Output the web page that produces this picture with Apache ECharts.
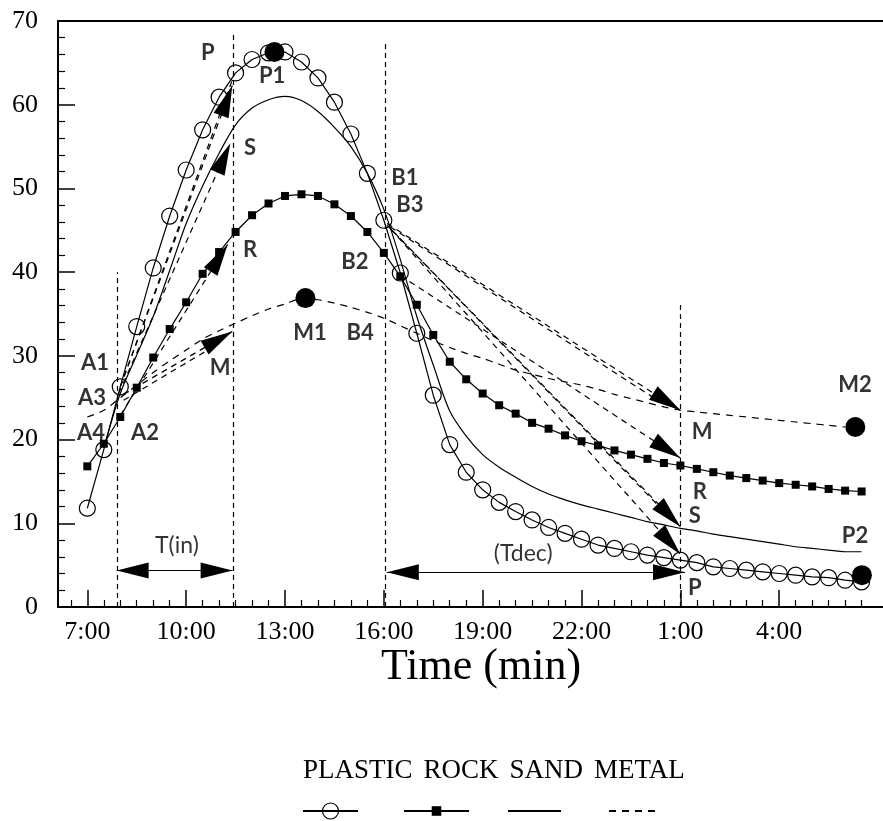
<!DOCTYPE html>
<html><head><meta charset="utf-8">
<script src="https://cdn.jsdelivr.net/npm/echarts@6/dist/echarts.min.js"></script>
<style>html,body{margin:0;padding:0;background:#fff}#c{width:883px;height:821px}</style>
</head><body><div id="c"></div>
<script>
// ---- data (hours; 25 = 1:00 next day) ----
const times = [7,7.5,8,8.5,9,9.5,10,10.5,11,11.5,12,12.5,13,13.5,14,14.5,15,15.5,16,16.5,17,17.5,18,18.5,19,19.5,20,20.5,21,21.5,22,22.5,23,23.5,24,24.5,25,25.5,26,26.5,27,27.5,28,28.5,29,29.5,30,30.5];
const plastic = [11.8,18.8,26.3,33.5,40.5,46.7,52.2,57.0,60.9,63.8,65.4,66.2,66.3,65.1,63.2,60.3,56.5,51.8,46.2,39.9,32.7,25.3,19.4,16.1,14.0,12.5,11.4,10.4,9.5,8.8,8.1,7.4,7.0,6.6,6.2,5.9,5.6,5.3,4.8,4.6,4.4,4.2,4.0,3.8,3.6,3.5,3.2,3.0];
const rock = [16.8,19.5,22.7,26.2,29.8,33.2,36.4,39.8,42.4,44.8,46.8,48.2,49.1,49.3,49.1,48.1,46.7,44.8,42.3,39.5,36.1,32.5,29.3,27.2,25.5,24.1,23.1,22.0,21.3,20.5,19.8,19.3,18.7,18.2,17.7,17.2,16.9,16.5,16.1,15.7,15.4,15.1,14.8,14.6,14.4,14.1,13.9,13.8];
const sand = [null,19.0,25.5,30.1,34.7,40.2,45.8,50.3,54.2,57.6,59.6,60.6,61.0,60.5,59.2,57.3,55.0,51.8,47.5,41.5,34.7,28.9,23.4,20.4,18.2,16.7,15.5,14.4,13.5,12.8,12.2,11.7,11.2,10.7,10.2,9.8,9.4,9.1,8.7,8.4,8.1,7.8,7.5,7.2,7.0,6.8,6.6,6.6];
const metal = [22.7,23.5,25.0,26.5,28.0,29.4,30.7,32.0,33.0,33.9,34.8,35.6,36.2,36.8,36.7,36.3,35.8,35.2,34.5,33.6,32.7,31.8,31.0,30.3,29.7,29.0,28.3,27.8,27.3,26.9,26.5,26.0,25.4,24.9,24.4,23.9,23.5,23.3,23.1,22.9,22.7,22.5,22.3,22.1,21.9,21.7,21.5,null];
const seriesNames = ['PLASTIC','ROCK','SAND','METAL'];
// big filled dots P1, M1, M2, P2
const dotX = [12.68,13.62,30.31,30.51];
const dotY = [66.3,36.9,21.5,3.8];
// axis ticks
const majorTicks = [7,10,13,16,19,22,25,28];
const minorTicks = [6.5,7.5,8,8.5,9,9.5,10.5,11,11.5,12,12.5,13.5,14,14.5,15,15.5,16.5,17,17.5,18,18.5,19.5,20,20.5,21,21.5,22.5,23,23.5,24,24.5,25.5,26,26.5,27,27.5,28.5,29,29.5,30,30.5];
const yTicksMax = 70;
// vertical dashed guides
const guideX = [7.9,11.43,16.03,25.0];
const guideTop = [40,68.5,67.5,36.5];
// arrows [x1,y1,x2,y2]
const riseArrows = [[8.0,26.3,11.40,62.3],[7.95,25.5,11.34,55.4],[8.0,22.9,11.26,43.3],[8.1,25.4,11.40,32.9]];
const riseExtra = [[8.0,26.3,11.45,63.5],[8.1,24.7,11.0,31.5]];
const fallArrows = [[16.1,45.8,25.0,23.5],[16.5,39.6,25.0,17.8],[16.1,45.6,25.0,9.6],[16.2,45.2,25.0,6.3]];
const fallExtra = [[16.2,45.4,24.5,24.2],[16.25,45.0,24.6,11.0]];
const spanArrows = [[7.89,4.36,11.41,4.36],[16.09,4.16,25.14,4.16]];
// annotation labels
const annoText = ['P','P1','S','R','M','A1','A3','A4','A2','B1','B3','B2','M1','B4','M2','M','R','S','P2','P','T(in)','(Tdec)'];
const annoX = [10.66,12.61,11.94,11.94,11.03,7.23,7.14,7.11,8.75,16.64,16.79,15.12,13.76,15.28,30.30,25.66,25.59,25.44,30.30,25.44,9.72,20.23];
const annoY = [66.2,63.4,54.9,42.6,28.6,29.1,25.0,20.8,20.8,51.3,48.0,41.2,32.7,32.7,26.5,20.9,13.7,10.9,8.5,2.3,7.35,6.4];

// ---- build ----
const X_MIN = 6.11, X_MAX = 31.15;
const SERIF = 'Liberation Serif';
const LBL = 'Lato';
const pairs = arr => times.map((t,i)=>[t, arr[i]]);
const fmtTime = v => ((v % 24) + ':00');

const headSize = [16,32];
function arrowLine(a, head, dash, both){
  return [
    {coord:[a[0],a[1]], symbol: both ? 'triangle' : 'none', symbolSize: headSize, symbolOffset:[0,16]},
    {coord:[a[2],a[3]], symbol: head ? 'triangle' : 'none', symbolSize: headSize, symbolOffset:[0,16],
     lineStyle:{type: dash ? [6,5] : 'solid', width:1.2, color:'#000'}}
  ];
}
const mlData = [];
guideX.forEach((x,i)=>mlData.push([
  {coord:[x,0], symbol:'none'},
  {coord:[x,guideTop[i]], symbol:'none', lineStyle:{type:[5,4], width:1.2, color:'#000'}}
]));
riseArrows.forEach(a=>mlData.push(arrowLine(a,true,true,false)));
riseExtra.forEach(a=>mlData.push(arrowLine(a,false,true,false)));
fallArrows.forEach(a=>mlData.push(arrowLine(a,true,true,false)));
fallExtra.forEach(a=>mlData.push(arrowLine(a,false,true,false)));
spanArrows.forEach(a=>mlData.push(arrowLine(a,true,false,true)));

const annoData = annoText.map((t,i)=>{
  const d = {name:t, value:[annoX[i], annoY[i]]};
  if (t.indexOf('(')>=0) d.label = {fontWeight:'normal', fontSize:23};
  return d;
});

const chart = echarts.init(document.getElementById('c'), null, {renderer:'canvas'});
const lineBase = {color:'#000', width:1.2};
const iconLegend = (name, left, w, h, hideSymbol) => ({
  data:[name], left:left, top: 811 - h/2, itemWidth:w, itemHeight:h, itemGap:0,
  formatter: ()=>'', selectedMode:false, orient:'horizontal', padding:0,
  itemStyle: hideSymbol ? {opacity:0} : {borderWidth:1.2}, textStyle:{fontSize:1}
});
const option = {
  animation:false,
  backgroundColor:'#fff',
  grid:{left:58, right:0, top:21, bottom:214, containLabel:false},
  legend:[
    {data:seriesNames, left:297, top:757, itemWidth:0, itemHeight:0, itemGap:5, padding:0,
     selectedMode:false, itemStyle:{opacity:0}, lineStyle:{opacity:0},
     textStyle:{fontFamily:SERIF, fontSize:27, color:'#000'}},
    iconLegend('PLASTIC', 302, 55, 20, false),
    iconLegend('ROCK', 403, 65, 12, false),
    iconLegend('SAND', 507, 53, 20, true),
    iconLegend('METAL', 608, 50, 20, true)
  ],
  xAxis:[
    {type:'value', min:X_MIN, max:X_MAX, position:'bottom',
     axisLine:{show:true, onZero:false, lineStyle:{color:'#000', width:2}},
     axisTick:{show:true, inside:true, length:17, customValues:majorTicks, lineStyle:{color:'#000', width:1.5}},
     axisLabel:{show:true, customValues:majorTicks, formatter:fmtTime, margin:12,
       fontFamily:SERIF, fontSize:26, color:'#000'},
     splitLine:{show:false}},
    {type:'value', min:X_MIN, max:X_MAX, position:'bottom',
     axisLine:{show:false},
     axisTick:{show:true, inside:true, length:7, customValues:minorTicks, lineStyle:{color:'#000', width:1.2}},
     axisLabel:{show:false}, splitLine:{show:false}},
    {type:'value', min:X_MIN, max:X_MAX, position:'top',
     axisLine:{show:true, onZero:false, lineStyle:{color:'#000', width:2}},
     axisTick:{show:false}, axisLabel:{show:false}, splitLine:{show:false}}
  ],
  yAxis:{type:'value', min:0, max:yTicksMax, interval:10,
    axisLine:{show:true, onZero:false, lineStyle:{color:'#000', width:2}},
    axisTick:{show:true, inside:true, length:17, lineStyle:{color:'#000', width:1.5}},
    minorTick:{show:true, splitNumber:5, length:7, lineStyle:{color:'#000', width:1.2}},
    axisLabel:{fontFamily:SERIF, fontSize:26, color:'#000', margin:20},
    splitLine:{show:false}},
  graphic:[{type:'text', x:481, y:667, silent:true,
    style:{text:'Time (min)', fontFamily:SERIF, fontSize:44, fill:'#000', textAlign:'center', textVerticalAlign:'middle'}}],
  series:[
    {name:'PLASTIC', type:'line', data:pairs(plastic), symbol:'circle', symbolSize:16,
     itemStyle:{color:'rgba(255,255,255,0)', borderColor:'#000', borderWidth:1.2},
     lineStyle:lineBase, z:3},
    {name:'ROCK', type:'line', data:pairs(rock), symbol:'rect', symbolSize:8,
     itemStyle:{color:'#000'}, lineStyle:lineBase, z:3},
    {name:'SAND', type:'line', data:pairs(sand), symbol:'none', smooth:0.3, connectNulls:false,
     itemStyle:{color:'#000'}, lineStyle:lineBase, z:2},
    {name:'METAL', type:'line', data:pairs(metal), symbol:'none', smooth:0.3,
     itemStyle:{color:'#000'}, lineStyle:{color:'#000', width:1.2, type:[7,6]}, z:2},
    {name:'dots', type:'scatter', data:dotX.map((x,i)=>[x,dotY[i]]), symbol:'circle', symbolSize:20,
     itemStyle:{color:'#000', opacity:1}, z:5, silent:true},
    {name:'annotations', type:'scatter', data:annoData, symbolSize:1, silent:true, z:6,
     itemStyle:{color:'rgba(0,0,0,0)'},
     label:{show:true, position:'inside', formatter:'{b}', fontFamily:LBL, fontWeight:'bold', fontSize:22, color:'#000'},
     markLine:{silent:true, animation:false, symbol:['none','none'], label:{show:false},
       lineStyle:{color:'#000', width:1.2}, data:mlData}}
  ]
};
chart.setOption(option);
</script>
</body></html>
